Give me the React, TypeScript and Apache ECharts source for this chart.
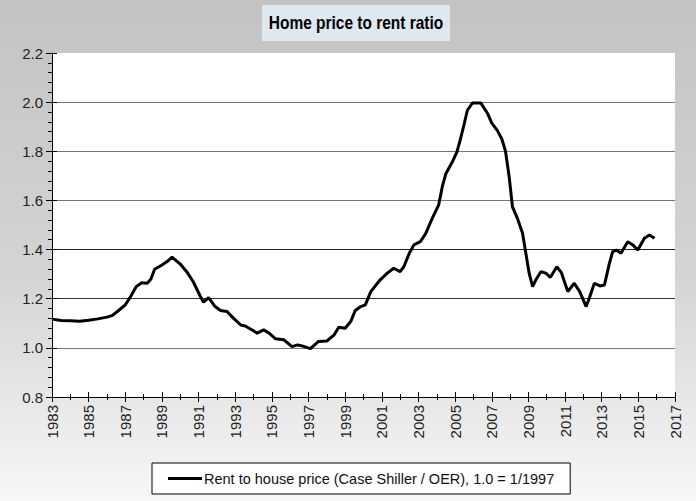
import React, { useEffect, useRef } from "react";
import * as echarts from "echarts";

const titleText = "Home price to rent ratio";
const seriesName = "Rent to house price (Case Shiller / OER), 1.0 = 1/1997";
const yearStart = 1983;
const yearEnd = 2017;
const yMin = 0.8;
const yMax = 2.2;

const years = [
  1983.0, 1983.5, 1984.0, 1984.5, 1985.0, 1985.5, 1986.0, 1986.3, 1986.6, 1987.0,
  1987.3, 1987.6, 1987.9, 1988.2, 1988.4, 1988.6, 1989.0, 1989.3, 1989.55, 1990.0,
  1990.35, 1990.7, 1991.1, 1991.27, 1991.55, 1991.9, 1992.2, 1992.55, 1992.9, 1993.3,
  1993.55, 1993.85, 1994.2, 1994.55, 1994.85, 1995.2, 1995.65, 1996.1, 1996.4, 1996.65,
  1997.1, 1997.55, 1998.0, 1998.4, 1998.65, 1999.0, 1999.3, 1999.55, 1999.85, 2000.1,
  2000.4, 2000.9, 2001.3, 2001.65, 2002.0, 2002.2, 2002.5, 2002.75, 2003.1, 2003.4,
  2003.75, 2004.1, 2004.3, 2004.5, 2004.85, 2005.1, 2005.3, 2005.5, 2005.67, 2005.95,
  2006.4, 2006.77, 2007.0, 2007.3, 2007.55, 2007.75, 2007.95, 2008.13, 2008.4, 2008.68,
  2008.86, 2009.04, 2009.23, 2009.4, 2009.68, 2009.95, 2010.2, 2010.55, 2010.8, 2011.15,
  2011.5, 2011.8, 2012.15, 2012.32, 2012.6, 2012.9, 2013.15, 2013.42, 2013.6, 2013.8,
  2014.05, 2014.42, 2014.7, 2014.97, 2015.33, 2015.6, 2015.88,
];

const ratio = [
  1.117, 1.111, 1.110, 1.108, 1.112, 1.118, 1.125, 1.132, 1.150, 1.175,
  1.210, 1.250, 1.265, 1.263, 1.280, 1.320, 1.337, 1.352, 1.369, 1.341,
  1.310, 1.270, 1.209, 1.186, 1.204, 1.168, 1.152, 1.148, 1.121, 1.093,
  1.089, 1.076, 1.060, 1.073, 1.060, 1.037, 1.033, 1.005, 1.012, 1.008,
  0.997, 1.026, 1.028, 1.053, 1.084, 1.080, 1.107, 1.152, 1.168, 1.175,
  1.229, 1.276, 1.304, 1.324, 1.310, 1.330, 1.385, 1.419, 1.432, 1.466,
  1.527, 1.581, 1.656, 1.710, 1.757, 1.798, 1.852, 1.913, 1.967, 1.997,
  1.997, 1.954, 1.915, 1.885, 1.850, 1.800, 1.696, 1.574, 1.527, 1.466,
  1.385, 1.304, 1.249, 1.276, 1.310, 1.304, 1.287, 1.330, 1.306, 1.229,
  1.263, 1.229, 1.168, 1.202, 1.263, 1.252, 1.256, 1.344, 1.392, 1.398,
  1.385, 1.432, 1.419, 1.398, 1.446, 1.459, 1.446,
];

const splitColors = ["#000", "#777", "#333", "#222", "#777", "#777", "#777", "rgba(0,0,0,0)"];

export default function App() {
  const ref = useRef<HTMLDivElement>(null);
  useEffect(() => {
    if (!ref.current) return;
    const chart = echarts.init(ref.current, null, { renderer: "svg" });
    const data = years.map((y, i) => [y - yearStart, ratio[i]]);
    const span = yearEnd - yearStart;
    const labelFont = { fontFamily: "Liberation Sans, Arial, sans-serif", fontSize: 15, color: "#222" };
    chart.setOption({
      animation: false,
      backgroundColor: {
        type: "linear", x: 0, y: 0, x2: 0, y2: 1,
        colorStops: [
          { offset: 0, color: "#c3c3c3" },
          { offset: 0.55, color: "#d4d4d4" },
          { offset: 1, color: "#f7f7f7" },
        ],
      },
      graphic: [
        {
          type: "group",
          children: [
            { type: "rect", shape: { x: 262, y: 5, width: 188, height: 36 }, style: { fill: "#dfe7ef" } },
            {
              type: "text",
              x: 356,
              y: 23,
              scaleX: 0.86,
              style: {
                text: titleText,
                fill: "#000",
                fontFamily: "Liberation Sans, Arial, sans-serif",
                fontWeight: "bold",
                fontSize: 18,
                align: "center",
                verticalAlign: "middle",
              },
            },
          ],
        },
      ],
      legend: {
        data: [{ name: seriesName, icon: "rect" }],
        left: 152,
        top: 463,
        padding: [8, 16, 8, 16],
        itemWidth: 34,
        itemHeight: 3,
        itemGap: 0,
        backgroundColor: "#fff",
        borderColor: "#000",
        borderWidth: 1,
        borderRadius: 0,
        textStyle: {
          fontFamily: "Liberation Sans, Arial, sans-serif",
          fontSize: 14.5,
          color: "#111",
          padding: [0, 0, 0, -3],
        },
      },
      grid: { left: 52, right: 21, top: 53, bottom: 104, show: true, backgroundColor: "#fff", borderWidth: 0 },
      xAxis: [
        {
          type: "value", min: 0, max: span, interval: 2,
          axisLine: { lineStyle: { color: "#000", width: 1 } },
          axisTick: { show: true, inside: false, length: 5, lineStyle: { color: "#000" } },
          minorTick: { show: true, splitNumber: 2, length: 3, lineStyle: { color: "#000" } },
          splitLine: { show: false },
          axisLabel: { ...labelFont, rotate: 90, margin: 8, formatter: (v: number) => String(v + yearStart) },
        },
        {
          type: "value", min: 0, max: span, interval: 2, position: "bottom",
          axisLine: { show: false },
          axisTick: { show: true, inside: true, length: 5, lineStyle: { color: "#000" } },
          minorTick: { show: true, splitNumber: 2, length: 3, lineStyle: { color: "#000" } },
          splitLine: { show: false },
          axisLabel: { show: false },
        },
      ],
      yAxis: [
        {
          type: "value", min: yMin, max: yMax, interval: 0.2,
          axisLine: { show: true, lineStyle: { color: "#000", width: 1 } },
          axisTick: { show: true, inside: false, length: 6, lineStyle: { color: "#000" } },
          minorTick: { show: true, splitNumber: 5, length: 4, lineStyle: { color: "#000" } },
          splitLine: { show: true, lineStyle: { color: splitColors, width: 1 } },
          axisLabel: { ...labelFont, margin: 9, formatter: (v: number) => v.toFixed(1) },
        },
        {
          type: "value", min: yMin, max: yMax, interval: 0.2, position: "left",
          axisLine: { show: false },
          axisTick: { show: true, inside: true, length: 5, lineStyle: { color: "#000" } },
          minorTick: { show: false },
          splitLine: { show: false },
          axisLabel: { show: false },
        },
      ],
      series: [
        {
          name: seriesName,
          type: "line",
          xAxisIndex: 0,
          yAxisIndex: 0,
          data,
          symbol: "none",
          smooth: false,
          lineStyle: { color: "#000", width: 3 },
          itemStyle: { color: "#000" },
        },
      ],
    });
    return () => chart.dispose();
  }, []);
  return <div ref={ref} style={{ position: "fixed", left: 0, top: 0, width: 696, height: 501 }} />;
}
